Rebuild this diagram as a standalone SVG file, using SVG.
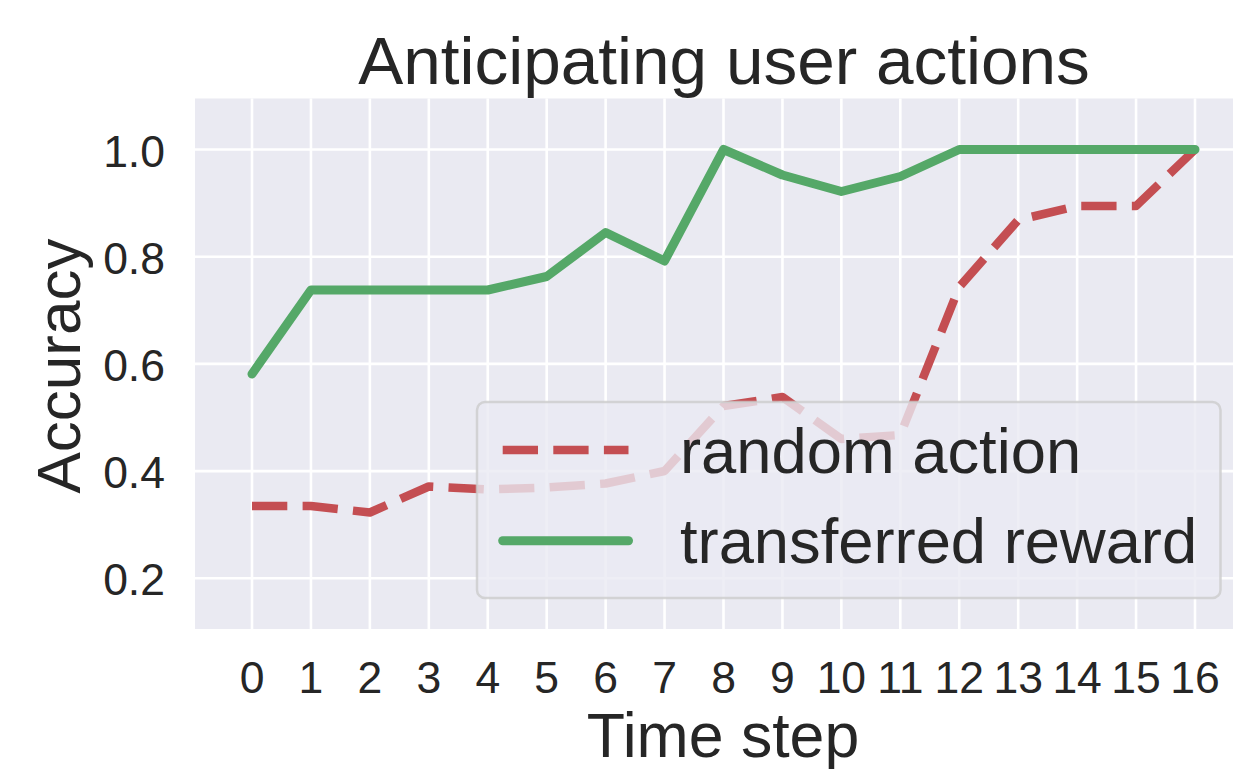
<svg xmlns="http://www.w3.org/2000/svg" width="1233" height="769" viewBox="0 0 1233 769">
<style>
text{font-family:"Liberation Sans",Arial,sans-serif;fill:#262626}
.grid line{stroke:#ffffff;stroke-width:2.6}
.tick{font-size:44.5px}
.ytick{text-anchor:end}
.xtick{text-anchor:middle}
.red{fill:none;stroke:#C44E52;stroke-width:8.5;stroke-dasharray:35.3 15.3;stroke-linejoin:round;stroke-linecap:butt}
.green{fill:none;stroke:#55A868;stroke-width:9;stroke-linejoin:round;stroke-linecap:round}
.leg{font-size:63.3px}
</style>
<rect x="0" y="0" width="1233" height="769" fill="#ffffff"/>
<g id="plot-area">
<rect x="195" y="98.5" width="1056" height="530.5" fill="#EAEAF2"/>
</g>
<g id="grid" class="grid">
<line x1="195" y1="149.5" x2="1251" y2="149.5"/>
<line x1="195" y1="256.7" x2="1251" y2="256.7"/>
<line x1="195" y1="363.9" x2="1251" y2="363.9"/>
<line x1="195" y1="471.1" x2="1251" y2="471.1"/>
<line x1="195" y1="578.3" x2="1251" y2="578.3"/>
<line x1="252" y1="98.5" x2="252" y2="629"/>
<line x1="310.94" y1="98.5" x2="310.94" y2="629"/>
<line x1="369.88" y1="98.5" x2="369.88" y2="629"/>
<line x1="428.81" y1="98.5" x2="428.81" y2="629"/>
<line x1="487.75" y1="98.5" x2="487.75" y2="629"/>
<line x1="546.69" y1="98.5" x2="546.69" y2="629"/>
<line x1="605.63" y1="98.5" x2="605.63" y2="629"/>
<line x1="664.56" y1="98.5" x2="664.56" y2="629"/>
<line x1="723.5" y1="98.5" x2="723.5" y2="629"/>
<line x1="782.44" y1="98.5" x2="782.44" y2="629"/>
<line x1="841.38" y1="98.5" x2="841.38" y2="629"/>
<line x1="900.31" y1="98.5" x2="900.31" y2="629"/>
<line x1="959.25" y1="98.5" x2="959.25" y2="629"/>
<line x1="1018.19" y1="98.5" x2="1018.19" y2="629"/>
<line x1="1077.13" y1="98.5" x2="1077.13" y2="629"/>
<line x1="1136.06" y1="98.5" x2="1136.06" y2="629"/>
<line x1="1195" y1="98.5" x2="1195" y2="629"/>
</g>
<g id="series">
<polyline id="random-action" class="red" points="252,506 310.94,506 369.88,512.5 428.81,486.5 487.75,489.5 546.69,487.5 605.63,483.5 664.56,471 723.5,406 782.44,397 841.38,439 900.31,435 959.25,287 1018.19,220 1077.13,206 1136.06,206 1195,149.5"/>
<polyline id="transferred-reward" class="green" points="252,374 310.94,290 369.88,290 428.81,290 487.75,290 546.69,276.5 605.63,232.5 664.56,261 723.5,149.5 782.44,175 841.38,191.5 900.31,176.5 959.25,149.5 1018.19,149.5 1077.13,149.5 1136.06,149.5 1195,149.5"/>
</g>
<g id="y-ticks" class="tick ytick">
<text x="165" y="166.5">1.0</text>
<text x="165" y="273.5">0.8</text>
<text x="165" y="380.5">0.6</text>
<text x="165" y="487.5">0.4</text>
<text x="165" y="595">0.2</text>
</g>
<g id="x-ticks" class="tick xtick">
<text x="252" y="693">0</text>
<text x="310.94" y="693">1</text>
<text x="369.88" y="693">2</text>
<text x="428.81" y="693">3</text>
<text x="487.75" y="693">4</text>
<text x="546.69" y="693">5</text>
<text x="605.63" y="693">6</text>
<text x="664.56" y="693">7</text>
<text x="723.5" y="693">8</text>
<text x="782.44" y="693">9</text>
<text x="841.38" y="693">10</text>
<text x="900.31" y="693">11</text>
<text x="959.25" y="693">12</text>
<text x="1018.19" y="693">13</text>
<text x="1077.13" y="693">14</text>
<text x="1136.06" y="693">15</text>
<text x="1195" y="693">16</text>
</g>
<g id="title">
<text x="724" y="84" font-size="67.5" text-anchor="middle">Anticipating user actions</text>
</g>
<g id="x-label">
<text x="723" y="757" font-size="62.6" text-anchor="middle">Time step</text>
</g>
<g id="y-label">
<text transform="translate(80,366) rotate(-90)" font-size="62" text-anchor="middle">Accuracy</text>
</g>
<g id="legend">
<rect x="477" y="402" width="743.5" height="196" rx="8" ry="8" fill="#EAEAF2" fill-opacity="0.8" stroke="#CCCCCC" stroke-opacity="0.8" stroke-width="2.5"/>
<line class="red" x1="502.7" y1="450" x2="628.5" y2="450"/>
<line class="green" x1="502.7" y1="540.7" x2="628.5" y2="540.7"/>
<text class="leg" x="680" y="473">random action</text>
<text class="leg" x="680" y="563">transferred reward</text>
</g>
</svg>
